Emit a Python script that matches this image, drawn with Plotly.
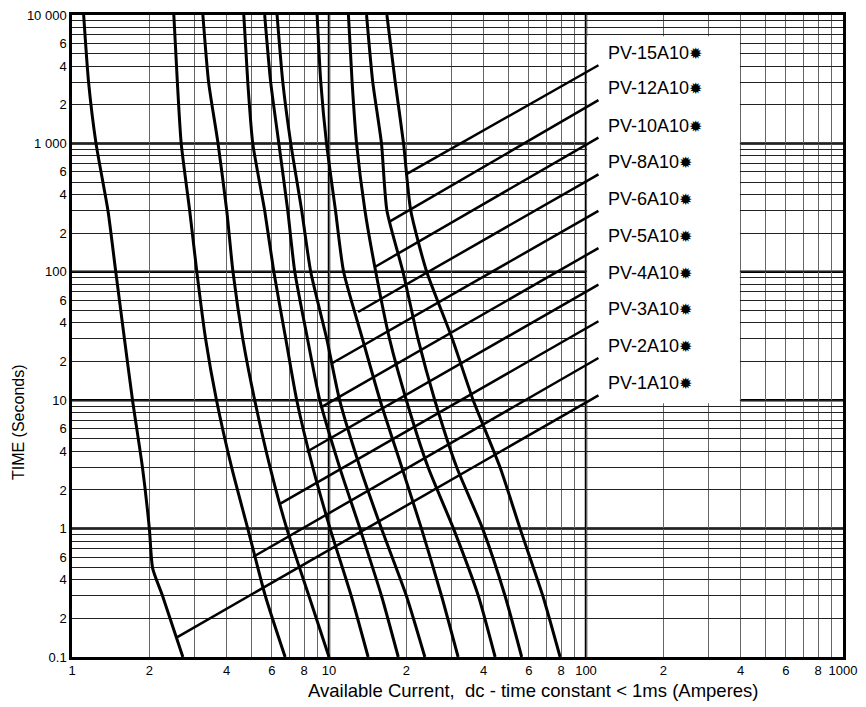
import numpy as np
import plotly.graph_objects as go

# ---------------- data ----------------
ratings = ["1", "2", "3", "4", "5", "6", "8", "10", "12", "15"]
label_names = ["PV-" + r + "A10" for r in ratings]

times = [10000, 3000, 1000, 300, 100, 30, 10, 3, 1, 0.3, 0.1]
times_1A = [10000, 3000, 1000, 300, 100, 30, 10, 3, 1, 0.49, 0.3, 0.1]

cur_1A = [1.11, 1.16, 1.24, 1.38, 1.48, 1.60, 1.72, 1.88, 2.00, 2.06, 2.25, 2.70]
cur_2A = [2.49, 2.57, 2.66, 2.87, 3.06, 3.31, 3.65, 4.18, 4.83, 5.65, 6.75]
cur_3A = [3.23, 3.40, 3.70, 4.00, 4.23, 4.62, 5.14, 5.90, 6.85, 8.35, 10.0]
cur_4A = [4.66, 4.83, 5.05, 5.62, 6.10, 6.79, 7.49, 8.65, 10.1, 12.2, 14.2]
cur_5A = [5.62, 5.93, 6.38, 6.91, 7.36, 8.25, 9.21, 11.0, 13.2, 16.0, 18.6]
cur_6A = [6.28, 6.61, 7.10, 7.83, 8.49, 9.80, 11.0, 13.2, 16.0, 20.0, 23.6]
cur_8A = [8.99, 9.29, 9.78, 10.6, 11.4, 13.5, 15.8, 19.2, 22.9, 27.4, 31.8]
cur_10A = [11.9, 12.3, 12.8, 13.8, 15.2, 17.2, 20.0, 24.3, 30.5, 38.1, 44.3]
cur_12A = [14.0, 14.8, 16.0, 16.8, 19.4, 22.2, 25.8, 31.4, 39.6, 48.4, 56.2]
cur_15A = [16.8, 18.1, 19.5, 20.8, 24.0, 30.2, 36.4, 46.3, 55.4, 67.9, 79.3]

# leader lines (from a point on each curve up to the label column)
lead_start_I = [2.57, 5.06, 6.49, 8.17, 9.27, 10.23, 12.98, 15.08, 17.26, 19.86]
lead_start_t = [0.143, 0.601, 1.57, 3.95, 8.76, 19.3, 48.6, 109, 247, 571]
lead_end_I = 111.8
lead_end_t = [10.9, 21.3, 41.2, 79.5, 153, 298, 574, 1110, 2170, 4060]

# white label panel
box_I = [101, 397]
box_t = [9.46, 6825]

# axis ticks
x_tickvals = [1, 2, 3, 4, 5, 6, 7, 8, 9,
              10, 20, 30, 40, 50, 60, 70, 80, 90,
              100, 200, 300, 400, 500, 600, 700, 800, 900, 1000]
x_ticktext = ["1", "2", "", "4", "", "6", "", "8", "",
              "10", "2", "", "4", "", "6", "", "8", "",
              "100", "2", "", "4", "", "6", "", "8", "", "1000"]
y_tickvals = [0.1, 0.2, 0.3, 0.4, 0.5, 0.6, 0.7, 0.8, 0.9,
              1, 2, 3, 4, 5, 6, 7, 8, 9,
              10, 20, 30, 40, 50, 60, 70, 80, 90,
              100, 200, 300, 400, 500, 600, 700, 800, 900,
              1000, 2000, 3000, 4000, 5000, 6000, 7000, 8000, 9000, 10000]
y_ticktext = ["0.1", "2", "", "4", "", "6", "", "", "",
              "1", "2", "", "4", "", "6", "", "", "",
              "10", "2", "", "4", "", "6", "", "", "",
              "100", "2", "", "4", "", "6", "", "", "",
              "1 000", "2", "", "4", "", "6", "", "", "", "10 000"]
decade_I = [10, 100]
decade_t = [1, 10, 100, 1000]

# ---------------- figure ----------------
FONT = "Liberation Sans, Arial, Helvetica, sans-serif"

fig = go.Figure()

curves = [(times_1A, cur_1A), (times, cur_2A), (times, cur_3A), (times, cur_4A),
          (times, cur_5A), (times, cur_6A), (times, cur_8A), (times, cur_10A),
          (times, cur_12A), (times, cur_15A)]
for name, (t, c) in zip(label_names, curves):
    fig.add_trace(go.Scatter(x=c, y=t, mode="lines", name=name,
                             line=dict(color="black", width=3, shape="spline", smoothing=0.6),
                             hoverinfo="skip", showlegend=False))

for i, name in enumerate(label_names):
    fig.add_trace(go.Scatter(x=[lead_start_I[i], lead_end_I], y=[lead_start_t[i], lead_end_t[i]],
                             mode="lines", line=dict(color="black", width=2.5),
                             hoverinfo="skip", showlegend=False))
    fig.add_annotation(x=np.log10(lead_end_I), y=np.log10(lead_end_t[i]), xref="x", yref="y",
                       text=name + '<span style="font-size:16px">✹</span>',
                       showarrow=False, xanchor="left", yanchor="middle",
                       xshift=8, yshift=12, font=dict(family=FONT, size=18, color="black"))

shapes = []
for v in decade_I:
    shapes.append(dict(type="line", xref="x", yref="paper", x0=v, x1=v, y0=0, y1=1,
                       line=dict(color="black", width=2.5), layer="between"))
for v in decade_t:
    shapes.append(dict(type="line", xref="paper", yref="y", x0=0, x1=1, y0=v, y1=v,
                       line=dict(color="black", width=2.5), layer="between"))
shapes.append(dict(type="rect", xref="x", yref="y", x0=box_I[0], x1=box_I[1],
                   y0=box_t[0], y1=box_t[1], fillcolor="white", line=dict(width=0),
                   layer="between"))

fig.add_annotation(text="Available Current, &nbsp;dc - time constant < 1ms (Amperes)",
                   xref="paper", yref="paper", x=0.5986, y=-0.052, showarrow=False,
                   xanchor="center", yanchor="middle",
                   font=dict(family=FONT, size=18.5, color="black"))
fig.add_annotation(text="TIME (Seconds)", textangle=-90,
                   xref="paper", yref="paper", x=-0.0700, y=0.366, showarrow=False,
                   xanchor="center", yanchor="middle",
                   font=dict(family=FONT, size=16, color="black"))

fig.update_layout(
    width=866, height=707,
    margin=dict(l=72, r=23, t=15, b=50, autoexpand=False),
    paper_bgcolor="white", plot_bgcolor="white",
    font=dict(family=FONT, color="black"),
    shapes=shapes,
    showlegend=False,
    xaxis=dict(type="log", range=[0, 3], tickmode="array", tickvals=x_tickvals,
               ticktext=x_ticktext, tickfont=dict(size=13, family=FONT),
               showgrid=True, gridcolor="#666", gridwidth=1, ticks="",
               showline=True, mirror=True, linecolor="black", linewidth=2.5,
               zeroline=False, fixedrange=True, automargin=False),
    yaxis=dict(type="log", range=[-1, 4], tickmode="array", tickvals=y_tickvals,
               ticktext=y_ticktext, tickfont=dict(size=13, family=FONT),
               showgrid=True, gridcolor="#222", gridwidth=1, ticks="",
               showline=True, mirror=True, linecolor="black", linewidth=2.5,
               zeroline=False, fixedrange=True, automargin=False),
)

fig.write_html("out.html", config={"displayModeBar": False},
               post_script="document.body.style.margin='0';document.body.style.overflow='hidden';")
